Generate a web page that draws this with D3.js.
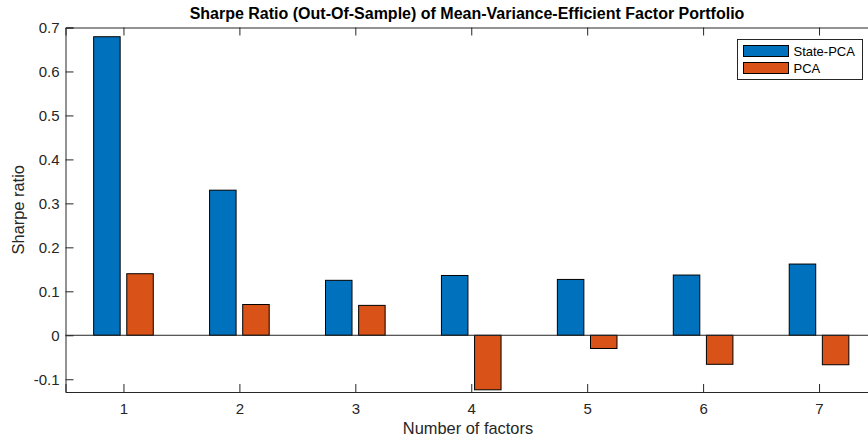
<!DOCTYPE html>
<html>
<head>
<meta charset="utf-8">
<script src="https://cdn.jsdelivr.net/npm/d3@7"></script>
<style>
  body { margin: 0; background: #fff; }
  svg { display: block; font-family: 'Liberation Sans', Arial, Helvetica, sans-serif; }
</style>
</head>
<body>
<svg id="chart"></svg>
<script>
// Chart data
let factors = [1, 2, 3, 4, 5, 6, 7];
let seriesNames = ['State-PCA', 'PCA'];
let statePca = [0.679, 0.330, 0.125, 0.136, 0.127, 0.137, 0.162];
let pca = [0.140, 0.070, 0.068, -0.124, -0.030, -0.066, -0.067];
let yTicks = [-0.1, 0, 0.1, 0.2, 0.3, 0.4, 0.5, 0.6, 0.7];
let colors = ['#0072bd', '#d95319'];

let svgWidth = 868;
let svgHeight = 438;

// Plot box (MATLAB axes; right edge sits just past the window)
let margin = { top: 27.5, left: 65.5, right: -9, bottom: 46 };
let width = svgWidth - margin.left - margin.right;
let height = svgHeight - margin.top - margin.bottom;
let axisColor = '#262626';
let tickLen = 8;

let svg = d3.select('#chart')
  .attr('width', svgWidth)
  .attr('height', svgHeight);

let g = svg.append('g')
  .attr('transform', 'translate(' + margin.left + ',' + margin.top + ')');

let xScale = d3.scaleLinear().domain([0.5, 7.5]).range([0, width]);
let yScale = d3.scaleLinear().domain([-0.129, 0.7]).range([height, 0]);

// Grouped bar geometry as MATLAB draws it for two series
let groupWidth = 2 / 3.5;
let barW = groupWidth / 2 * 0.8;
let offsets = [-groupWidth / 4, groupWidth / 4];

let rows = [];
factors.forEach((f, i) => {
  rows.push({ f: f, s: 0, v: statePca[i] });
  rows.push({ f: f, s: 1, v: pca[i] });
});

g.selectAll('rect.bar')
  .data(rows)
  .enter()
  .append('rect')
  .attr('class', 'bar')
  .attr('x', d => xScale(d.f + offsets[d.s] - barW / 2))
  .attr('width', d => xScale(barW) - xScale(0))
  .attr('y', d => yScale(Math.max(0, d.v)))
  .attr('height', d => Math.abs(yScale(d.v) - yScale(0)))
  .attr('fill', d => colors[d.s])
  .attr('stroke', '#000')
  .attr('stroke-width', 1);

// Zero baseline
g.append('line')
  .attr('x1', 0).attr('x2', width)
  .attr('y1', yScale(0)).attr('y2', yScale(0))
  .attr('stroke', axisColor).attr('stroke-width', 1);

// Axes
let xAxis = d3.axisBottom(xScale).tickValues(factors).tickSize(-tickLen).tickPadding(11).tickFormat(d3.format('d'));
let yAxis = d3.axisLeft(yScale).tickValues(yTicks).tickSize(-tickLen).tickPadding(6)
  .tickFormat(d => d === 0 ? '0' : d3.format('.1f')(d).replace('−', '-'));
let xTop = d3.axisTop(xScale).tickValues(factors).tickSize(-tickLen).tickFormat('');
let yRight = d3.axisRight(yScale).tickValues(yTicks).tickSize(-tickLen).tickFormat('');

function styleAxis(sel) {
  sel.selectAll('path').attr('stroke', axisColor);
  sel.selectAll('line').attr('stroke', axisColor);
  sel.selectAll('text').attr('fill', axisColor).attr('font-size', '15px')
    .attr('font-family', "'Liberation Sans', Arial, sans-serif");
}

g.append('g').attr('transform', 'translate(0,' + height + ')').call(xAxis).call(styleAxis);
g.append('g').call(yAxis).call(styleAxis);
g.append('g').call(xTop).call(styleAxis);
g.append('g').attr('transform', 'translate(' + width + ',0)').call(yRight).call(styleAxis);
g.selectAll('.domain').attr('stroke', axisColor);

// Title
svg.append('text')
  .attr('x', 467)
  .attr('y', 19)
  .attr('text-anchor', 'middle')
  .attr('font-size', '16px')
  .attr('font-weight', 'bold')
  .attr('fill', '#000')
  .text('Sharpe Ratio (Out-Of-Sample) of Mean-Variance-Efficient Factor Portfolio');

// Axis labels
svg.append('text')
  .attr('x', 468)
  .attr('y', 434)
  .attr('text-anchor', 'middle')
  .attr('font-size', '16.4px')
  .attr('fill', axisColor)
  .text('Number of factors');

svg.append('text')
  .attr('transform', 'translate(24,' + (margin.top + height / 2) + ') rotate(-90)')
  .attr('text-anchor', 'middle')
  .attr('font-size', '16.4px')
  .attr('fill', axisColor)
  .text('Sharpe ratio');

// Legend
let legend = svg.append('g').attr('transform', 'translate(737.5,39.5)');
legend.append('rect')
  .attr('width', 125).attr('height', 40)
  .attr('fill', '#fff').attr('stroke', axisColor).attr('stroke-width', 1);
seriesNames.forEach((name, i) => {
  let row = legend.append('g').attr('transform', 'translate(6,' + (6 + i * 17) + ')');
  row.append('rect')
    .attr('width', 45).attr('height', 11)
    .attr('fill', colors[i]).attr('stroke', '#000');
  row.append('text')
    .attr('x', 50).attr('y', 10.5)
    .attr('font-size', '13px')
    .attr('fill', '#000')
    .text(name);
});
</script>
</body>
</html>
